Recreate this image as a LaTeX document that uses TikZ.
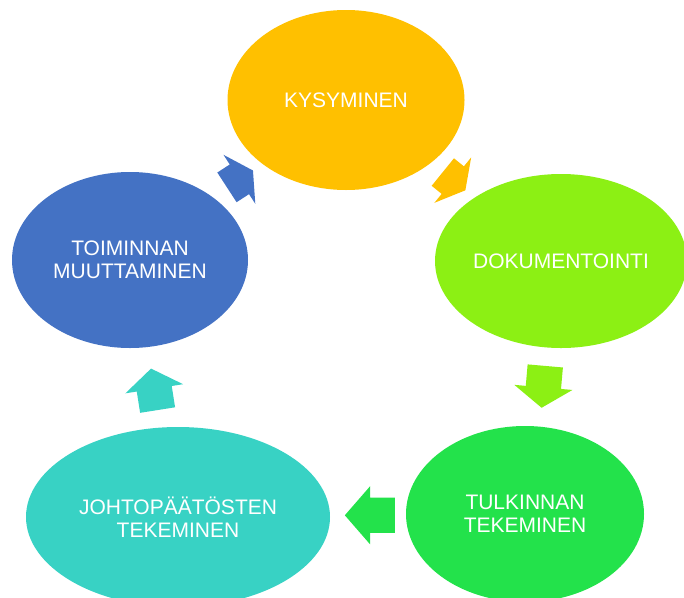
\documentclass[tikz,border=0pt]{standalone}
\usepackage{fontspec}
\setmainfont{Liberation Sans}
\usetikzlibrary{shapes.geometric,shapes.arrows,calc}

\definecolor{kysfill}{RGB}{255,192,0}
\definecolor{dokfill}{RGB}{140,240,20}
\definecolor{tulfill}{RGB}{35,226,75}
\definecolor{johfill}{RGB}{56,210,196}
\definecolor{toifill}{RGB}{68,114,196}

\begin{document}
\begin{tikzpicture}[x=1pt,y=1pt,yscale=-1,xscale=1,
  phase/.style={ellipse,inner sep=0pt,text=white,align=center,font=\fontsize{21}{23}\selectfont},
  turn/.style={single arrow,inner xsep=0pt,inner ysep=17.5pt,single arrow head extend=11.5pt,single arrow tip angle=110}]
  \useasboundingbox (0,0) rectangle (684,597);
  \clip (0,0) rectangle (684,597);
  \node[phase,fill=kysfill,minimum width=237pt,minimum height=180pt] (kys) at (346,100) {KYSYMINEN};
  \node[phase,fill=dokfill,minimum width=252pt,minimum height=174pt] (dok) at (561,261) {DOKUMENTOINTI};
  \node[phase,fill=tulfill,minimum width=238pt,minimum height=176pt] (tul) at (525,514) {TULKINNAN\\TEKEMINEN};
  \node[phase,fill=johfill,minimum width=304pt,minimum height=180pt] (joh) at (178,517) {JOHTOPÄÄTÖSTEN\\TEKEMINEN};
  \node[phase,fill=toifill,minimum width=236pt,minimum height=176pt] (toi) at (130,260) {TOIMINNAN\\MUUTTAMINEN};
  \node[turn,fill=kysfill,minimum height=29pt,single arrow tip angle=122,rotate=-39] (kysdok) at ($(kys)!0.485!(dok)$) {};
  \node[turn,fill=dokfill,minimum height=42pt,rotate=-95] (doktul) at ($(dok)!0.473!(tul)$) {};
  \node[turn,fill=tulfill,minimum height=50pt,single arrow tip angle=98,rotate=180] (tuljoh) at ($(tul)!0.425!(joh)$) {};
  \node[turn,fill=johfill,minimum height=42pt,rotate=99] (johtoi) at ($(joh)!0.473!(toi)$) {};
  \node[turn,fill=toifill,minimum height=31pt,single arrow tip angle=122,rotate=33] (toikys) at ($(toi)!0.49!(kys)$) {};
\end{tikzpicture}
\end{document}
